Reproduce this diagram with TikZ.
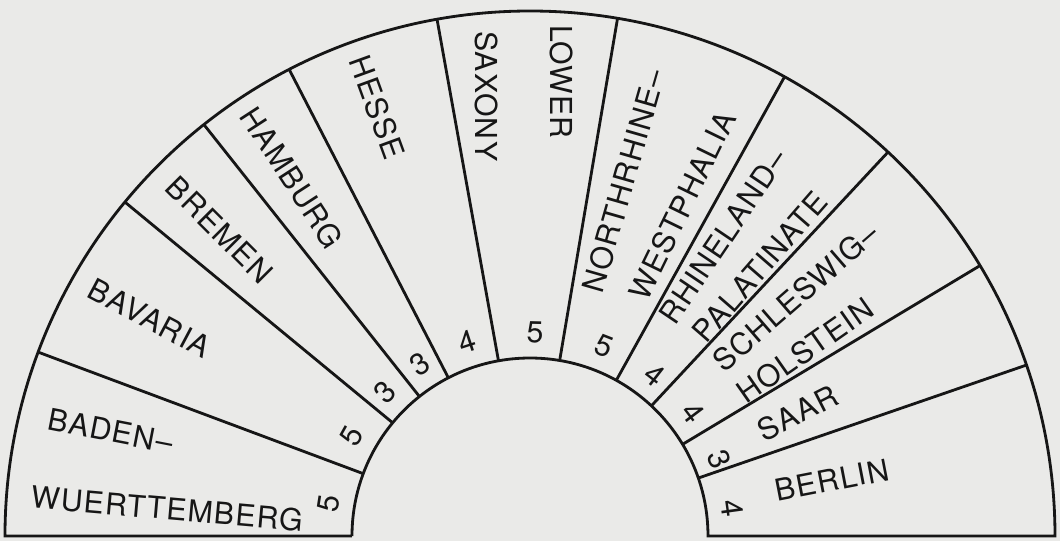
\documentclass[tikz,border=0pt]{standalone}
\usepackage{fontspec}
\setmainfont{TeX Gyre Heros}[LetterSpace=4.0]
\definecolor{paper}{RGB}{234,234,232}
\definecolor{ink}{RGB}{22,22,22}

\begin{document}
\begin{tikzpicture}[
  font=\fontsize{21.5}{34}\selectfont,
  rim/.style={draw=ink, line width=2pt},
  land/.style={inner sep=0pt, text=ink},
  seats/.style={inner sep=0pt, text=ink},
]
\fill[paper] (-13.25,-0.125) rectangle (13.25,13.4);
\useasboundingbox (-13.25,-0.125) rectangle (13.25,13.4);

% ring
\draw[rim] (-4.45,0) -- (-13.125,0) arc[start angle=180, end angle=0, radius=13.125cm]
  -- (4.45,0) arc[start angle=0, end angle=180, radius=4.45cm];
\foreach \a in {159.5,140.5,128.4,117.3,100.2,80.4,61,47,31,19}
  \draw[rim] (\a:4.45) -- (\a:13.125);

% states, one node per lettered line
\node[land, rotate=-11] (bw1) at (165.9:10.8) {BADEN--};
\node[land, rotate=-5] (bw2) at (175.7:9.1) {WUERTTEMBERG};
\node[land, rotate=-28] (bav) at (150.2:10.95) {BAVARIA};
\node[land, rotate=-45] (bre) at (135.4:10.9) {BREMEN};
\node[land, rotate=-57] (ham) at (123.6:10.75) {HAMBURG};
\node[land, rotate=-70] (hes) at (109.6:11.38) {HESSE};
\node[land, rotate=-90] (ls1) at (86:11.38) {LOWER};
\node[land, rotate=-90] (ls2) at (95.6:11.05) {SAXONY};
\node[land, rotate=74] (nrw1) at (75.2:9.18) {NORTHRHINE--};
\node[land, rotate=64] (nrw2) at (65.3:9.1) {WESTPHALIA};
\node[land, rotate=56] (rp1) at (57.2:8.9) {RHINELAND--};
\node[land, rotate=49] (rp2) at (49.5:8.85) {PALATINATE};
\node[land, rotate=41] (sh1) at (42:8.93) {SCHLESWIG--};
\node[land, rotate=35] (sh2) at (34:8.3) {HOLSTEIN};
\node[land, rotate=27] (saar) at (24.7:7.37) {SAAR};
\node[land, rotate=11] (ber) at (10.5:7.68) {BERLIN};

% seats
\foreach \a/\s [count=\i] in {171/5,150.7/5,135.2/3,122.5/3,108/4,88.6/5,68.6/5,52.2/4,37/4,22/3,7.8/4}
  \node[seats, rotate=\a-90] (seat\i) at (\a:5.1) {\s};
\end{tikzpicture}
\end{document}
